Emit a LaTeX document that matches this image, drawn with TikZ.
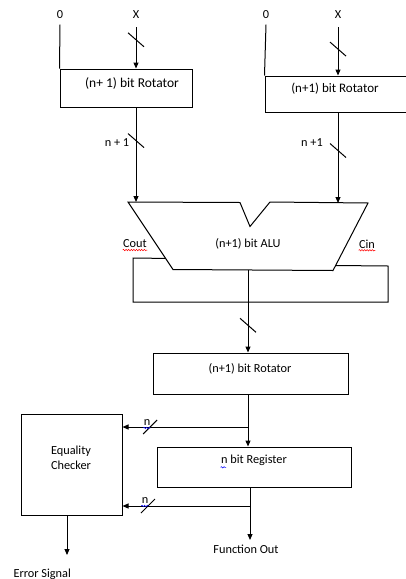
\documentclass[tikz,border=0pt]{standalone}
\usepackage{fontspec}
\setmainfont{Carlito}
\usetikzlibrary{arrows.meta,calc,decorations.pathmorphing}
\begin{document}
\begin{tikzpicture}[x=1pt,y=-1pt,
  line width=1pt,
  every node/.style={font=\fontsize{12.3}{14}\selectfont, inner sep=0pt},
  wire/.style={draw=black},
  arr/.style={wire,-{Triangle[length=6pt,width=5pt]}},
  box/.style={draw=black, rectangle, minimum width=#1},
  lbl/.style={anchor=center},
  vslash/.pic={\draw[-] (-8,-7) -- (8,7);},
  hslash/.pic={\draw[-] (-7,7) -- (7,-7);},
  squig/.style={decorate, decoration={snake, amplitude=0.7pt, segment length=2.6pt}, line width=0.5pt}
]
\useasboundingbox (0,0) rectangle (406,579);

% top inputs
\node (zeroL) at (60,15) {0};
\node (xL) at (136,15) {X};
\node (zeroR) at (266,15) {0};
\node (xR) at (338,15) {X};

% rotators
\node[box=132pt, minimum height=38pt] (rotL) at (126,88) {};
\node[lbl, font=\fontsize{13.5}{15}\selectfont] at (132,83) {(n+ 1) bit Rotator};
\node[box=141pt, minimum height=36pt] (rotR) at (335.5,94) {};
\node[lbl, font=\fontsize{13}{15}\selectfont] at (335,89) {(n+1) bit Rotator};

\draw[wire] ($(zeroL.south)+(0,5)$) -- (rotL.north west);
\draw[wire] ($(zeroR.south)+(0,5)$) -- (rotR.north west);
\draw[arr] ($(xL.south)+(0,8)$) -- (xL.south |- rotL.north) pic[pos=0.3]{vslash};
\draw[arr] ($(xR.south)+(0,8)$) -- (xR.south |- rotR.north) pic[pos=0.45]{vslash};

% ALU
\coordinate (aTL) at (128,202);
\coordinate (nL) at (240,202.5);
\coordinate (nB) at (250,226.5);
\coordinate (nR) at (270,202);
\coordinate (aTR) at (368,203);
\coordinate (aBR) at (333,270.5);
\coordinate (aBL) at (173,269.5);
\draw (aTL) -- (nL) -- (nB) -- (nR) -- (aTR) -- (aBR) -- (aBL) -- cycle;
\node[lbl] (alu) at (248,244) {(n+1) bit ALU};
\coordinate (aluOut) at (248,270);

\draw[arr] (rotL.south -| xL) -- (xL |- aTL) pic[pos=0.35]{vslash};
\node[lbl] at (117,143) {n + 1};
\draw[arr] (rotR.south -| xR) -- (xR |- aTR) pic[pos=0.42]{vslash};
\node[lbl] at (312,143) {n +1};

% carry loop
\node[lbl] (cout) at (135,244) {Cout};
\node[lbl] (cin) at (367,244) {Cin};
\draw[squig, red] ($(cout.south west)+(0,1.5)$) -- ($(cout.south east)+(0,1.5)$);
\draw[squig, red] ($(cin.south west)+(0,1.5)$) -- ($(cin.south east)+(0,1.5)$);
\coordinate (coutP) at ($(aTL)!0.836!(aBL)$);
\coordinate (cinP) at ($(aTR)!0.926!(aBR)$);
\draw[wire] (coutP) -- (133,258) -- (133,302) -- (388,302) -- (388,266) -- (cinP);

% bottom rotator
\node[box=195pt, minimum height=41pt] (rotB) at (250.5,373.5) {};
\node[lbl] at (250,369) {(n+1) bit Rotator};
\draw[arr] (aluOut) -- (aluOut |- rotB.north) pic[pos=0.67]{vslash};

% register
\node[box=194pt, minimum height=40pt] (reg) at (254,467) {};
\node[lbl] (regt) at (254,460) {n bit Register};
\draw[squig, blue] ($(regt.south west)+(0,1.5)$) -- ($(regt.south west)+(5.5,1.5)$);

% checker
\node[box=101pt, minimum height=101pt] (chk) at (71.5,464.5) {};
\node[lbl, align=center, font=\fontsize{12.3}{15}\selectfont] at (71,458) {Equality\\Checker};

\coordinate (j1) at (248,427);
\draw[arr] (rotB.south -| aluOut) -- (aluOut |- reg.north);
\draw[arr] (j1) -- (chk.east |- j1) pic[pos=0.78]{hslash};
\node[lbl] (n1) at (147,423) {n};
\draw[squig, blue] ($(n1.south west)+(0,1.5)$) -- ($(n1.south east)+(0,1.5)$);

\coordinate (regOut) at (250,487);
\coordinate (j2) at (250,506);
\node[lbl] (fout) at (246,549) {Function Out};
\draw[arr] (regOut) -- (250,540);
\draw[arr] (j2) -- (chk.east |- j2) pic[pos=0.8]{hslash};
\node[lbl] (n2) at (145,501) {n};
\draw[squig, blue] ($(n2.south west)+(0,1.5)$) -- ($(n2.south east)+(0,1.5)$);

% error output
\node[anchor=west] (err) at (13,574) {Error Signal};
\draw[arr] (67,515) -- (67,555);
\end{tikzpicture}
\end{document}
